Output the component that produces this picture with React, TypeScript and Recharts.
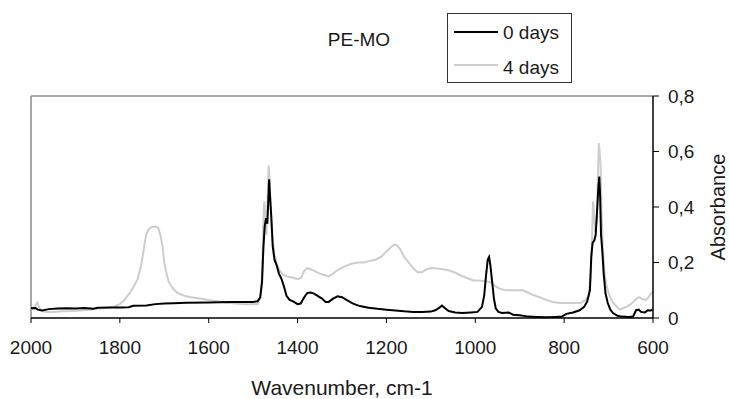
import { LineChart, Line, XAxis, YAxis, ReferenceLine, Legend } from 'recharts'

// 0 days spectrum (wavenumber, absorbance)
const wavenumbers0 = [
    2000, 1990, 1985, 1975, 1960, 1940, 1920, 1900, 1880, 1860, 1850, 1820, 1800, 1780, 1770, 1740, 1720, 1700, 1680, 1650,
    1600, 1550, 1500, 1490, 1484, 1480, 1477, 1474, 1471, 1468, 1466, 1464, 1462, 1459, 1456, 1452, 1447, 1442, 1436, 1430,
    1425, 1418, 1410, 1400, 1393, 1385, 1378, 1370, 1363, 1355, 1345, 1337, 1330, 1320, 1310, 1300, 1290, 1275, 1260, 1240,
    1220, 1200, 1180, 1160, 1140, 1120, 1100, 1090, 1080, 1075, 1068, 1060, 1045, 1030, 1010, 995, 985, 980, 976, 972,
    969, 966, 962, 958, 954, 948, 940, 925, 915, 900, 880, 860, 840, 820, 805, 795, 780, 765, 755, 748,
    742, 739, 736, 732, 729, 726, 723, 721, 719, 717, 714, 711, 707, 702, 696, 690, 680, 670, 655, 645,
    638, 632, 627, 618, 612, 605, 600,
]
const absorbance0 = [
    0.035, 0.036, 0.03, 0.027, 0.032, 0.034, 0.035, 0.034, 0.036, 0.033, 0.037, 0.038, 0.038, 0.039, 0.044, 0.045, 0.05, 0.052, 0.053, 0.055,
    0.056, 0.058, 0.058, 0.06, 0.075, 0.13, 0.25, 0.33, 0.36, 0.34, 0.42, 0.5, 0.44, 0.36, 0.26, 0.21, 0.19, 0.16, 0.14, 0.11,
    0.08, 0.065, 0.06, 0.05, 0.052, 0.075, 0.09, 0.092, 0.088, 0.08, 0.07, 0.058, 0.058, 0.07, 0.078, 0.075, 0.065, 0.052, 0.043, 0.037,
    0.033, 0.03, 0.027, 0.024, 0.022, 0.022, 0.023, 0.028, 0.038, 0.045, 0.035, 0.025, 0.02, 0.018, 0.02, 0.022, 0.04, 0.08, 0.15, 0.21,
    0.22, 0.19, 0.13, 0.07, 0.035, 0.022, 0.018, 0.02, 0.012, 0.01, 0.005, 0.004, 0.003, 0.004, 0.005, 0.015, 0.02, 0.028, 0.04, 0.06,
    0.1, 0.22, 0.27, 0.28, 0.3, 0.38, 0.47, 0.51, 0.44, 0.3, 0.24, 0.16, 0.09, 0.055, 0.03, 0.018, 0.008, 0.005, 0.004, 0.005,
    0.028, 0.03, 0.022, 0.02, 0.028, 0.027, 0.03,
]

// 4 days spectrum
const wavenumbers4 = [
    2000, 1995, 1990, 1986, 1982, 1975, 1965, 1950, 1930, 1910, 1890, 1870, 1850, 1830, 1815, 1800, 1790, 1780, 1770, 1760,
    1752, 1746, 1741, 1735, 1728, 1720, 1714, 1709, 1704, 1700, 1695, 1690, 1680, 1670, 1655, 1640, 1620, 1600, 1580, 1560,
    1540, 1520, 1500, 1490, 1484, 1480, 1477, 1475, 1473, 1470, 1467, 1465, 1463, 1460, 1456, 1452, 1446, 1440, 1432, 1424,
    1410, 1400, 1392, 1385, 1378, 1370, 1360, 1350, 1340, 1330, 1320, 1310, 1295, 1280, 1265, 1250, 1240, 1225, 1212, 1200,
    1190, 1182, 1175, 1168, 1160, 1150, 1140, 1130, 1120, 1110, 1100, 1085, 1070, 1060, 1045, 1035, 1020, 1005, 990, 975,
    965, 955, 945, 930, 910, 893, 880, 870, 855, 840, 825, 810, 790, 775, 762, 752, 745, 740, 737, 735,
    733, 730, 727, 725, 722, 720, 718, 716, 713, 709, 705, 700, 692, 684, 675, 668, 660, 650, 640, 632,
    626, 618, 612, 606, 600,
]
const absorbance4 = [
    0.03, 0.035, 0.045, 0.055, 0.04, 0.025, 0.022, 0.022, 0.024, 0.025, 0.027, 0.03, 0.033, 0.037, 0.04, 0.05, 0.065, 0.085, 0.11, 0.14,
    0.19, 0.25, 0.3, 0.32, 0.328, 0.33, 0.325, 0.3, 0.26, 0.2, 0.16, 0.13, 0.105, 0.09, 0.08, 0.075, 0.07, 0.065, 0.06, 0.055,
    0.052, 0.05, 0.05, 0.05, 0.07, 0.15, 0.35, 0.42, 0.38, 0.3, 0.45, 0.55, 0.5, 0.38, 0.28, 0.23, 0.19, 0.17, 0.155, 0.15,
    0.145, 0.14, 0.145, 0.17, 0.18, 0.175, 0.168, 0.16, 0.155, 0.15, 0.16, 0.173, 0.185, 0.195, 0.2, 0.2, 0.205, 0.21, 0.22, 0.24,
    0.255, 0.265, 0.26, 0.245, 0.22, 0.2, 0.18, 0.165, 0.165, 0.175, 0.18, 0.178, 0.175, 0.172, 0.163, 0.155, 0.145, 0.135, 0.135, 0.132,
    0.128, 0.115, 0.105, 0.1, 0.1, 0.1, 0.09, 0.083, 0.075, 0.065, 0.058, 0.054, 0.054, 0.054, 0.055, 0.065, 0.08, 0.15, 0.3, 0.42,
    0.38, 0.31, 0.35, 0.45, 0.63, 0.6, 0.55, 0.4, 0.25, 0.16, 0.12, 0.09, 0.06, 0.045, 0.03, 0.035, 0.04, 0.05, 0.065, 0.075,
    0.07, 0.065, 0.07, 0.085, 0.095,
]

const xTicks = [2000, 1800, 1600, 1400, 1200, 1000, 800, 600]
const yTicks = [0, 0.2, 0.4, 0.6, 0.8]
const seriesNames = ['0 days', '4 days']
const seriesColors = ['#000000', '#cdcdcd']

const FONT = '"Liberation Sans", Arial, sans-serif'
const TEXT = '#1a1a1a'

const data0 = wavenumbers0.map((wn, i) => ({ wn, a: absorbance0[i] }))
const data4 = wavenumbers4.map((wn, i) => ({ wn, a: absorbance4[i] }))

const formatY = (v: number) => (v === 0 ? '0' : v.toFixed(1).replace('.', ','))

const LegendBox = () => (
    <svg width={126} height={71} style={{ display: 'block' }}>
        <rect x={0.5} y={0.5} width={124} height={69} fill="#fff" stroke="#333" strokeWidth={1} />
        {seriesNames.map((name, i) => (
            <g key={name}>
                <line x1={7} x2={51} y1={19 + i * 33} y2={19 + i * 33} stroke={seriesColors[i]} strokeWidth={2} />
                <text x={56} y={26 + i * 35} fontSize={19} fontFamily={FONT} fill={TEXT}>
                    {name}
                </text>
            </g>
        ))}
    </svg>
)

export default function App() {
    return (
        <div style={{ position: 'absolute', left: 0, top: 0, width: 729, height: 399, background: '#fff', fontFamily: FONT }}>
            <svg width={729} height={60} style={{ position: 'absolute', left: 0, top: 0 }}>
                <text x={359} y={46} textAnchor="middle" fontSize={19} fontFamily={FONT} fill={TEXT}>
                    PE-MO
                </text>
            </svg>
            <LineChart width={729} height={399} margin={{ top: 96, right: 0, bottom: 0, left: 31 }}>
                <XAxis
                    type="number"
                    dataKey="wn"
                    domain={[600, 2000]}
                    reversed
                    ticks={xTicks}
                    interval={0}
                    height={81}
                    tickSize={5}
                    tickMargin={18}
                    axisLine={{ stroke: '#000', strokeWidth: 1.5 }}
                    tickLine={{ stroke: '#000' }}
                    tick={{ fontSize: 19, fill: TEXT, fontFamily: FONT }}
                    allowDataOverflow
                    label={{ value: 'Wavenumber, cm-1', position: 'insideBottom', offset: 4, fontSize: 21, fill: TEXT, fontFamily: FONT }}
                />
                <YAxis
                    orientation="right"
                    domain={[0, 0.8]}
                    ticks={yTicks}
                    width={76}
                    tickSize={6}
                    tickMargin={9}
                    tickFormatter={formatY}
                    axisLine={{ stroke: '#000', strokeWidth: 1.5 }}
                    tickLine={{ stroke: '#000' }}
                    tick={{ fontSize: 19, fill: TEXT, fontFamily: FONT }}
                    allowDataOverflow
                    label={{
                        content: (props: any) => {
                            const vb = props.viewBox || { x: 653, y: 96, width: 76, height: 222 }
                            const cx = vb.x + vb.width - 11
                            const cy = vb.y + vb.height / 2
                            return (
                                <text
                                    x={cx}
                                    y={cy}
                                    transform={`rotate(-90, ${cx}, ${cy})`}
                                    textAnchor="middle"
                                    dominantBaseline="central"
                                    fontSize={20}
                                    fontFamily={FONT}
                                    fill={TEXT}
                                >
                                    Absorbance
                                </text>
                            )
                        },
                    }}
                />
                <ReferenceLine y={0.8} stroke="#8a8a8a" strokeWidth={1.5} />
                <ReferenceLine x={2000} stroke="#8a8a8a" strokeWidth={1.5} />
                <Line
                    data={data4}
                    dataKey="a"
                    name={seriesNames[1]}
                    type="linear"
                    stroke={seriesColors[1]}
                    strokeWidth={2}
                    dot={false}
                    isAnimationActive={false}
                />
                <Line
                    data={data0}
                    dataKey="a"
                    name={seriesNames[0]}
                    type="linear"
                    stroke={seriesColors[0]}
                    strokeWidth={2}
                    dot={false}
                    isAnimationActive={false}
                />
                <Legend
                    layout="vertical"
                    align="center"
                    verticalAlign="middle"
                    content={() => <LegendBox />}
                    wrapperStyle={{ position: 'absolute', left: 447, top: 13, width: 126, height: 71 }}
                />
            </LineChart>
        </div>
    )
}
